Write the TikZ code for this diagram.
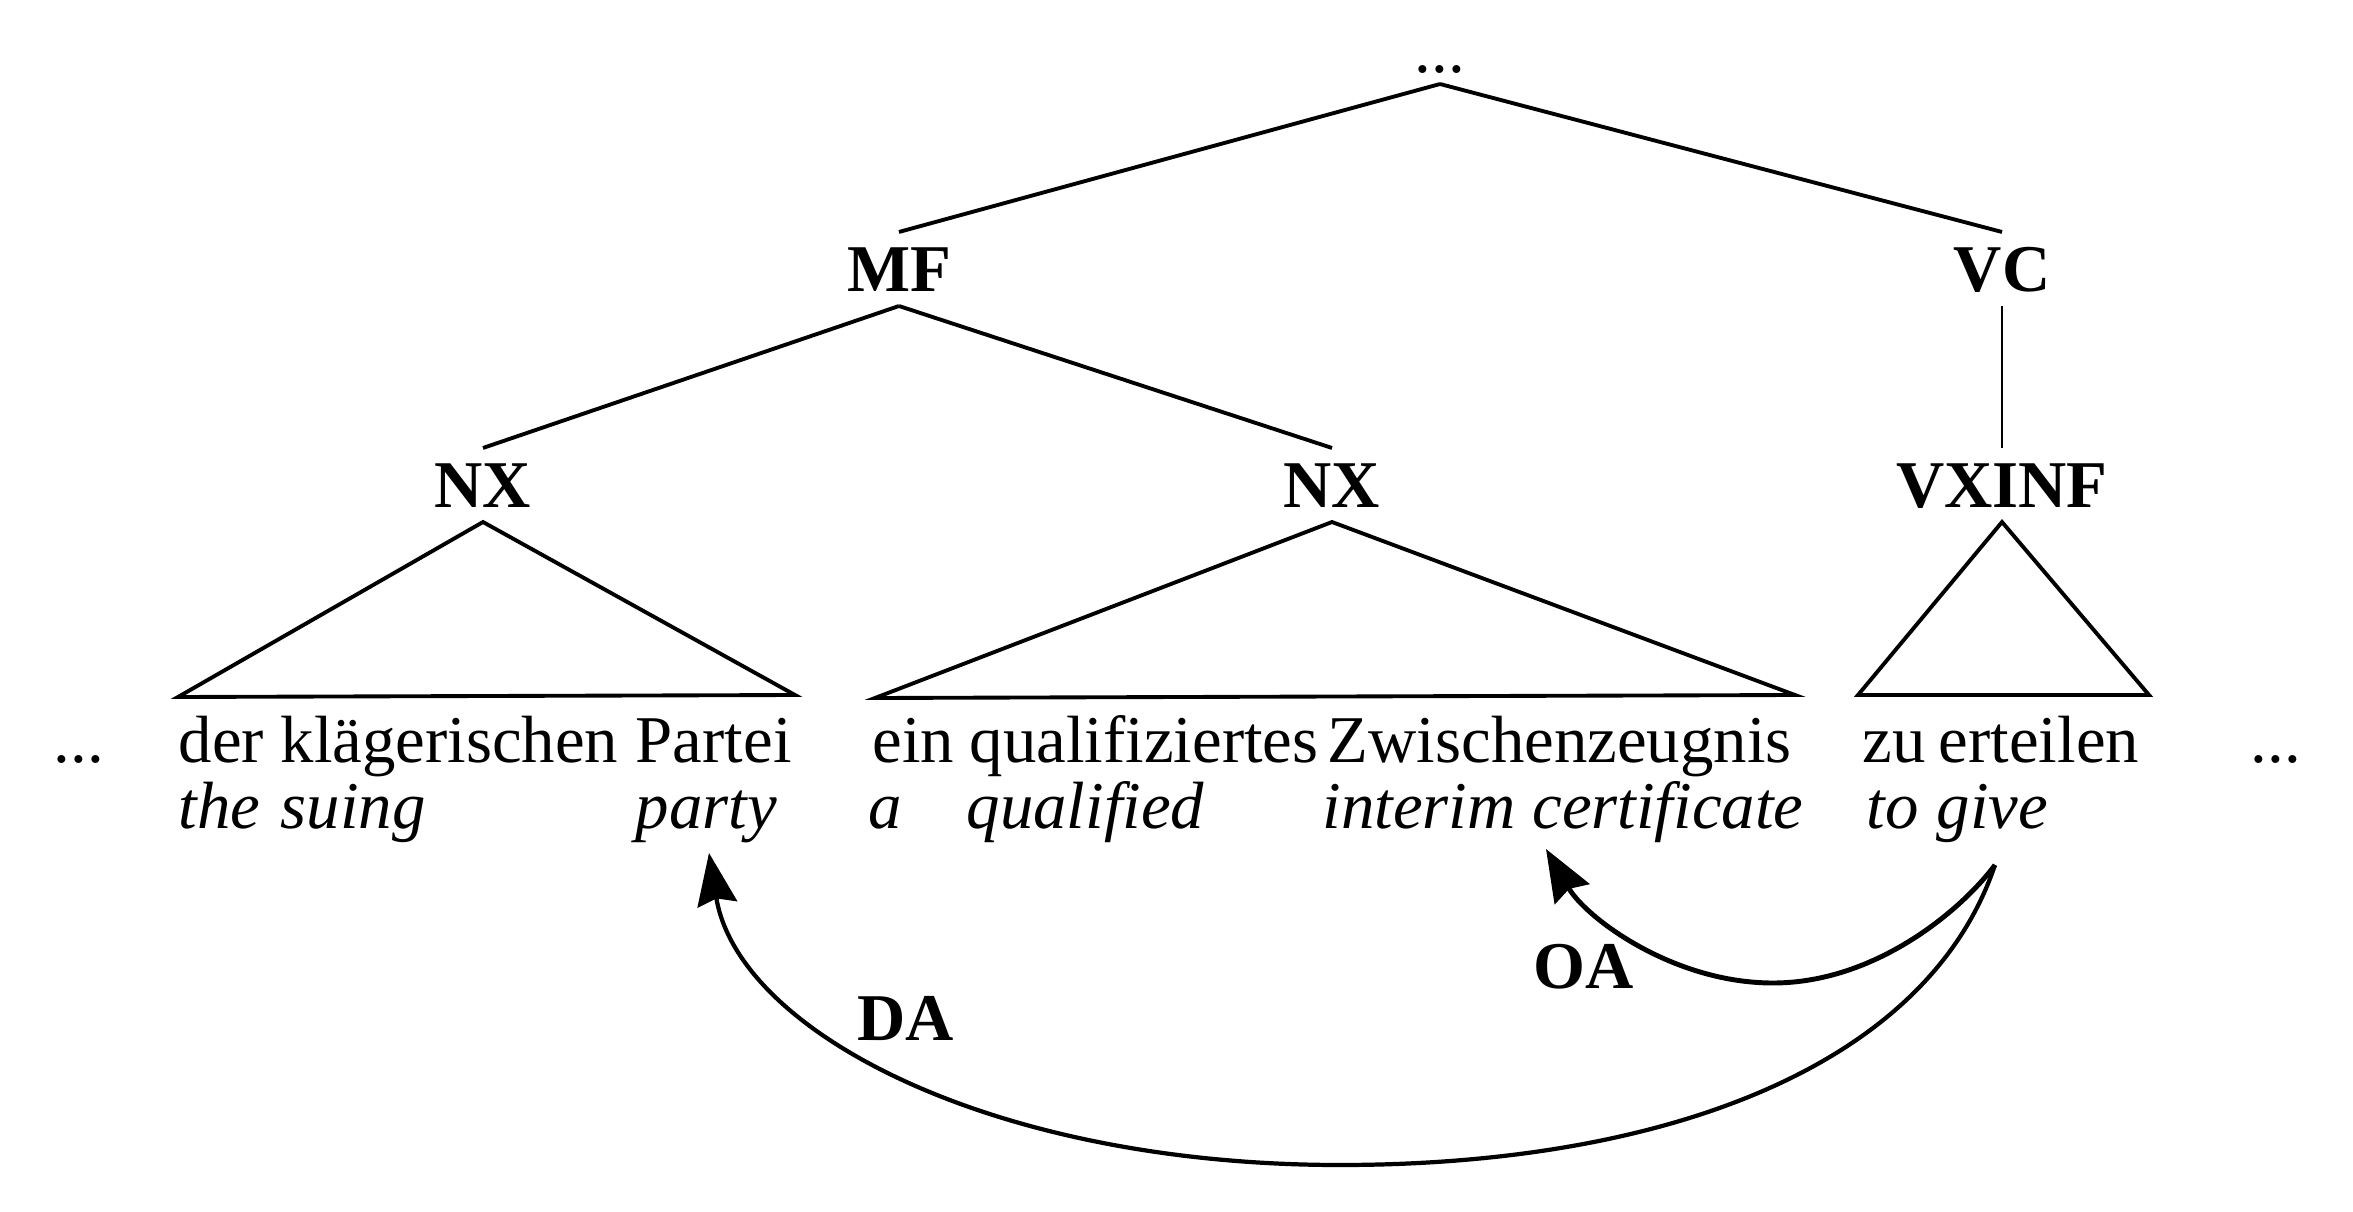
\documentclass[tikz,border=0pt]{standalone}
\usepackage{fontspec}
\setmainfont{Liberation Serif}
\usetikzlibrary{arrows.meta}
\newcommand{\treefont}{\fontsize{19}{19}\selectfont}
\tikzset{
  cat/.style={anchor=base, inner sep=0pt, outer sep=0.15cm, text height=0.44cm, text depth=0pt, font=\treefont\bfseries},
  word/.style={anchor=base west, inner sep=0pt, font=\treefont},
  gloss/.style={anchor=base west, inner sep=0pt, font=\treefont\itshape},
  branch/.style={line width=1.1pt},
  rel/.style={line width=1.2pt, -{Stealth[length=0.52cm, width=0.4cm, inset=0.06cm]}},
}
\begin{document}
\begin{tikzpicture}[x=0.01cm, y=-0.01cm]
\useasboundingbox (0,0) rectangle (2353,1212);

% tree labels
\node[cat, font=\treefont, outer sep=0.12cm] (top) at (1440,72) {...};
\node[cat] (mf) at (899,291) {MF};
\node[cat] (vc) at (2002,291) {VC};
\node[cat] (nx1) at (483,507) {NX};
\node[cat] (nx2) at (1332,507) {NX};
\node[cat] (vx) at (2002,507) {VXINF};

% words and glosses
\node[word] (dl) at (53,762) {...};
\node[word] (w1) at (178,762) {der};
\node[word] (w2) at (280,762) {klägerischen};
\node[word] (w3) at (635,762) {Partei};
\node[word] (w4) at (872,762) {ein};
\node[word] (w5) at (969,762) {qualifiziertes};
\node[word] (w6) at (1327,762) {Zwischenzeugnis};
\node[word] (w7) at (1862,762) {zu};
\node[word] (w8) at (1938,762) {erteilen};
\node[word] (dr) at (2250,762) {...};

\node[gloss] (g1) at (178,828) {the};
\node[gloss] (g2) at (280,828) {suing};
\node[gloss] (g3) at (635,828) {party};
\node[gloss] (g4) at (868,828) {a};
\node[gloss] (g5) at (966,828) {qualified};
\node[gloss] (g6) at (1322,828) {interim certificate};
\node[gloss] (g7) at (1866,828) {to};
\node[gloss] (g8) at (1936,828) {give};

% branches
\draw[branch] (top.south) -- (mf.north);
\draw[branch] (top.south) -- (vc.north);
\draw[branch] (mf.south) -- (nx1.north);
\draw[branch] (mf.south) -- (nx2.north);
\draw[line width=0.8pt] (vc.south) -- (vx.north);

% triangles
\coordinate (t1l) at (178,697);
\coordinate (t1r) at (795,695);
\coordinate (t2l) at (875,698);
\coordinate (t2r) at (1795,695);
\coordinate (t3l) at (1858,695);
\coordinate (t3r) at (2149,695);
\draw[branch] (nx1.south) -- (t1r) -- (t1l) -- cycle;
\draw[branch] (nx2.south) -- (t2r) -- (t2l) -- cycle;
\draw[branch] (vx.south) -- (t3r) -- (t3l) -- cycle;

% relations
\coordinate (src) at (1995,865);
\coordinate (oaB) at (1773,983);
\coordinate (oaT) at (1546,849);
\coordinate (daB) at (1340,1165);
\coordinate (daT) at (709,853);
\draw[rel, line width=1.4pt] (src) .. controls (1959,913) and (1873,983) .. (oaB)
  .. controls (1673,983) and (1586,918) .. (oaT);
\draw[rel] (src) .. controls (1926,1069) and (1660,1165) .. (daB)
  .. controls (990,1165) and (738,1031) .. (daT);
\node[cat] (oa) at (1584,988) {OA};
\node[cat] (da) at (906,1040) {DA};
\end{tikzpicture}
\end{document}
